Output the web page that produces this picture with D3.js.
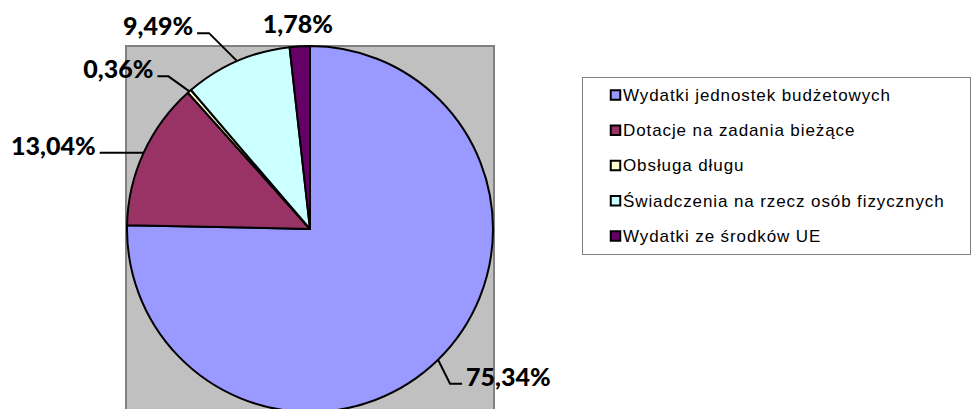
<!DOCTYPE html>
<html>
<head>
<meta charset="utf-8">
<script src="https://cdn.jsdelivr.net/npm/d3@7"></script>
<style>
  body { margin: 0; background: #fff; }
  svg { display: block; }
</style>
</head>
<body>
<div id="chart"></div>
<script>
// data
const categories = [
    "Wydatki jednostek budżetowych",
    "Dotacje na zadania bieżące",
    "Obsługa długu",
    "Świadczenia na rzecz osób fizycznych",
    "Wydatki ze środków UE"
];
const shares = [75.34, 13.04, 0.36, 9.49, 1.78];
const colors = ["#9999FF", "#993366", "#FFFFCC", "#CCFFFF", "#660066"];

// label leader layout (elbow offset from rim point, tail length, text side)
const labelLayout = [
    { ex: 12, ey: 24, tail: 12, anchor: "start" },
    { ex: 0, ey: 0, tail: -44, anchor: "end" },
    { ex: -21, ey: -15, tail: -11, anchor: "end" },
    { ex: -28, ey: -28, tail: -12, anchor: "end" },
    { ex: -2, ey: -13, tail: null, anchor: "middle" }
];

const width = 971, height = 409;
const cx = 310, cy = 229, r = 183;

const svg = d3.select("#chart").append("svg")
    .attr("width", width)
    .attr("height", height);

// plot area
svg.append("rect")
    .attr("x", 126)
    .attr("y", 46)
    .attr("width", 368)
    .attr("height", 400)
    .attr("fill", "#C0C0C0")
    .attr("stroke", "#808080")
    .attr("stroke-width", 2);

const data = categories.map((c, i) => ({ name: c, value: shares[i], color: colors[i], lay: labelLayout[i] }));

const pie = d3.pie()
    .value(d => d.value)
    .sort(null);

const arc = d3.arc().innerRadius(0).outerRadius(r);
const rim = d3.arc().innerRadius(r).outerRadius(r);

const arcs = pie(data);

const g = svg.append("g").attr("transform", `translate(${cx},${cy})`);

g.selectAll("path.slice")
    .data(arcs)
    .enter()
    .append("path")
    .attr("class", "slice")
    .attr("d", arc)
    .attr("fill", d => d.data.color)
    .attr("stroke", "#000")
    .attr("stroke-width", 2)
    .attr("stroke-linejoin", "round");

// leader lines and labels
const fmt = v => v.toFixed(2).replace(".", ",") + "%";

arcs.forEach(d => {
    const p = rim.centroid(d);
    const lay = d.data.lay;
    const elbow = [p[0] + lay.ex, p[1] + lay.ey];
    let tx, ty;
    if (lay.tail !== null) {
        const end = [elbow[0] + lay.tail, elbow[1]];
        g.append("path")
            .attr("d", d3.line()([p, elbow, end]))
            .attr("fill", "none")
            .attr("stroke", "#000")
            .attr("stroke-width", 2);
        tx = end[0] + (lay.tail > 0 ? 4 : -4);
        ty = end[1] + 2;
    } else {
        tx = elbow[0];
        ty = elbow[1];
    }
    g.append("text")
        .attr("x", tx)
        .attr("y", ty)
        .attr("text-anchor", lay.anchor)
        .style("font-family", "Lato, 'Open Sans', sans-serif")
        .style("font-weight", "900")
        .style("font-size", "25px")
        .attr("fill", "#000")
        .text(fmt(d.data.value));
});

// legend
const legend = svg.append("g");
legend.append("rect")
    .attr("x", 582.5)
    .attr("y", 77.5)
    .attr("width", 388)
    .attr("height", 177)
    .attr("fill", "#fff")
    .attr("stroke", "#808080")
    .attr("stroke-width", 1);

const rowY = d3.scalePoint()
    .domain(categories)
    .range([95, 236]);

const items = legend.selectAll("g.item")
    .data(data)
    .enter()
    .append("g")
    .attr("class", "item")
    .attr("transform", d => `translate(610,${rowY(d.name)})`);

items.append("rect")
    .attr("x", 0.75)
    .attr("y", -4.75)
    .attr("width", 9.5)
    .attr("height", 9.5)
    .attr("fill", d => d.color)
    .attr("stroke", "#000")
    .attr("stroke-width", 2);

items.append("text")
    .attr("x", 13)
    .attr("y", 0)
    .attr("dy", "0.35em")
    .style("font-family", "'Liberation Sans', Arial, sans-serif")
    .style("font-size", "17px")
    .style("letter-spacing", "0.9px")
    .attr("fill", "#000")
    .text(d => d.name);
</script>
</body>
</html>
